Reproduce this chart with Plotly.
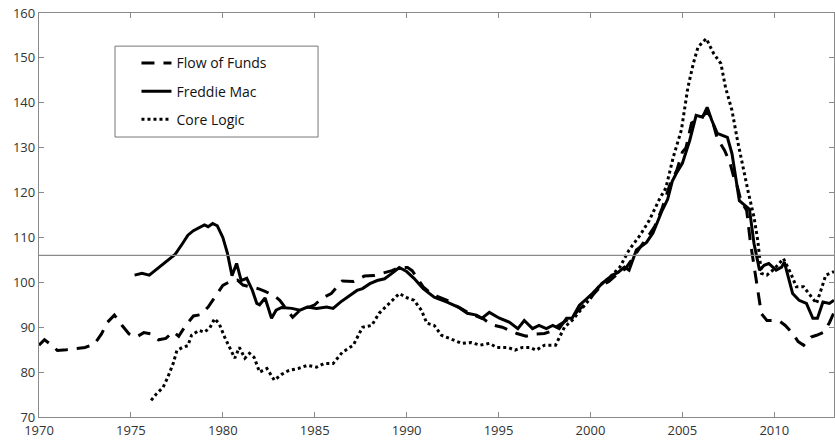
import plotly.graph_objects as go

# Flow of Funds (dashed)
fof_years = [1970.0, 1970.3, 1970.7, 1971.0, 1971.5, 1972.0, 1972.5, 1973.0, 1973.4, 1973.7, 1974.1, 1974.5,
             1974.9, 1975.3, 1975.7, 1976.1, 1976.5, 1976.9, 1977.3, 1977.6, 1978.0, 1978.4, 1978.8, 1979.2,
             1979.6, 1980.0, 1980.4, 1980.8, 1981.1, 1981.6, 1982.0, 1982.3, 1982.8, 1983.1, 1983.5, 1983.8,
             1984.3, 1984.7, 1985.0, 1985.4, 1985.9, 1986.5, 1987.1, 1987.7, 1988.2, 1988.8, 1989.2, 1989.6,
             1990.05, 1990.3, 1990.6, 1990.9, 1991.25, 1991.7, 1992.2, 1992.45, 1992.9, 1993.4, 1993.8,
             1994.2, 1994.6, 1995.2, 1995.6, 1996.0, 1996.5, 1997.0, 1997.5, 1997.8, 1998.3, 1998.7, 1999.0,
             1999.4, 1999.8, 2000.2, 2000.6, 2001.0, 2001.5, 2001.9, 2002.3, 2002.7, 2003.1, 2003.5, 2003.9,
             2004.3, 2004.7, 2005.0, 2005.2, 2005.5, 2005.75, 2006.1, 2006.35, 2006.6, 2006.9, 2007.3, 2007.6,
             2007.8, 2008.0, 2008.2, 2008.5, 2008.7, 2009.0, 2009.3, 2009.6, 2010.0, 2010.3, 2010.6, 2011.0,
             2011.3, 2011.6, 2012.0, 2012.3, 2012.7, 2013.0, 2013.25]
fof_values = [86.0, 87.2, 86.0, 84.8, 85.0, 85.2, 85.5, 86.2, 88.5, 91.0, 92.7, 90.5,
              88.5, 87.8, 88.8, 88.5, 87.2, 87.5, 89.0, 88.0, 90.5, 92.5, 92.8, 94.5,
              97.0, 99.3, 100.2, 100.5, 99.4, 98.9, 98.5, 98.0, 97.0, 96.0, 93.8, 92.2,
              94.2, 94.5, 95.0, 96.5, 97.5, 100.3, 100.2, 101.4, 101.5, 102.2, 102.6, 103.3,
              103.3, 102.6, 100.8, 99.0, 97.8, 96.8, 96.0, 95.3, 94.3, 93.1, 92.5,
              91.8, 90.6, 90.0, 89.3, 88.6, 88.0, 88.5, 88.6, 89.0, 90.5, 91.5, 92.3,
              94.0, 95.5, 97.5, 99.3, 100.2, 102.0, 103.0, 105.5, 107.8, 110.0, 112.5, 116.5,
              121.5, 125.0, 129.0, 130.0, 135.5, 136.0, 137.0, 138.0, 136.5, 132.0, 129.4, 126.5,
              123.4, 121.2, 118.0, 116.0, 109.0, 101.0, 93.0, 91.5, 91.5, 91.3, 90.4, 88.6,
              86.8, 86.0, 87.8, 88.2, 88.9, 91.0, 93.3]

# Freddie Mac (solid)
fm_years = [1975.2, 1975.6, 1976.0, 1976.3, 1976.7, 1977.0, 1977.4, 1977.8, 1978.1, 1978.4, 1978.75,
            1979.0, 1979.2, 1979.45, 1979.7, 1980.0, 1980.25, 1980.5, 1980.75, 1981.0, 1981.3, 1981.6,
            1981.85, 1982.0, 1982.3, 1982.65, 1982.9, 1983.2, 1983.75, 1984.2, 1984.6, 1985.1, 1985.65,
            1986.0, 1986.4, 1986.8, 1987.3, 1987.6, 1988.0, 1988.4, 1988.8, 1989.2, 1989.6, 1990.0,
            1990.4, 1990.9, 1991.5, 1992.2, 1992.8, 1993.3, 1993.8, 1994.1, 1994.5, 1995.05, 1995.6,
            1996.05, 1996.4, 1996.85, 1997.2, 1997.6, 1997.95, 1998.3, 1998.7, 1999.0, 1999.4, 1999.7,
            2000.1, 2000.65, 2001.2, 2001.5, 2001.85, 2002.1, 2002.5, 2003.05, 2003.4, 2003.9, 2004.2,
            2004.45, 2004.7, 2005.0, 2005.4, 2005.75, 2006.1, 2006.35, 2006.6, 2006.9, 2007.45, 2007.7,
            2007.9, 2008.1, 2008.65, 2008.9, 2009.2, 2009.45, 2009.7, 2010.1, 2010.4, 2010.55, 2011.0,
            2011.35, 2011.75, 2012.1, 2012.35, 2012.65, 2013.0, 2013.25]
fm_values = [101.6, 102.0, 101.6, 102.6, 104.0, 105.0, 106.2, 108.6, 110.5, 111.5, 112.3,
             112.8, 112.4, 113.1, 112.6, 110.0, 106.5, 101.5, 104.2, 100.4, 100.9, 98.3,
             95.3, 95.0, 96.5, 92.0, 93.8, 94.4, 94.2, 93.8, 94.5, 94.2, 94.5,
             94.2, 95.6, 96.7, 98.2, 98.6, 99.7, 100.4, 100.8, 102.0, 103.3, 102.4,
             100.9, 98.6, 96.7, 95.6, 94.5, 93.1, 92.7, 92.0, 93.3, 92.0, 91.1,
             89.7, 91.5, 89.7, 90.4, 89.7, 90.4, 89.7, 92.0, 92.0, 94.9, 96.0,
             97.5, 99.8, 101.6, 102.2, 103.4, 102.7, 107.2, 108.9, 111.0, 116.0, 118.5,
             122.5, 124.5, 126.5, 131.6, 137.2, 136.8, 139.0, 136.1, 133.2, 132.3, 128.7,
             123.0, 118.2, 116.3, 108.6, 102.7, 103.8, 104.2, 102.7, 103.4, 104.5, 97.5,
             96.0, 95.3, 92.0, 92.0, 95.6, 95.3, 96.0]

# Core Logic (dotted)
cl_years = [1976.1, 1976.4, 1976.75, 1977.0, 1977.3, 1977.5, 1977.8, 1978.1, 1978.3, 1978.7, 1979.0,
            1979.3, 1979.55, 1979.8, 1980.1, 1980.4, 1980.65, 1980.9, 1981.2, 1981.45, 1981.7, 1982.0,
            1982.4, 1982.8, 1983.2, 1983.6, 1984.1, 1984.6, 1985.1, 1985.5, 1986.0, 1986.5, 1987.1,
            1987.6, 1988.1, 1988.5, 1989.1, 1989.6, 1990.05, 1990.4, 1990.8, 1991.1, 1991.5, 1991.9,
            1992.4, 1993.0, 1993.5, 1994.0, 1994.5, 1994.9, 1995.5, 1995.9, 1996.3, 1996.7, 1997.05,
            1997.5, 1998.1, 1998.6, 1999.0, 1999.6, 2000.05, 2000.5, 2001.05, 2001.6, 2002.1, 2002.7,
            2003.2, 2003.75, 2004.1, 2004.5, 2004.95, 2005.3, 2005.6, 2005.85, 2006.3, 2006.7, 2007.1,
            2007.35, 2007.7, 2008.0, 2008.3, 2008.6, 2008.9, 2009.1, 2009.3, 2009.6, 2010.0, 2010.5,
            2010.9, 2011.2, 2011.6, 2011.9, 2012.3, 2012.6, 2012.8, 2013.25]
cl_values = [73.7, 75.2, 76.6, 78.8, 81.9, 84.8, 85.5, 85.9, 88.2, 89.3, 88.9,
             89.9, 91.9, 90.8, 87.8, 85.3, 83.1, 85.5, 83.1, 84.2, 83.3, 80.0,
             80.8, 78.2, 79.5, 80.4, 80.8, 81.5, 81.1, 81.9, 81.9, 84.4, 86.0,
             90.0, 90.4, 93.1, 95.6, 97.5, 96.5, 96.0, 93.8, 90.9, 90.4, 88.2,
             87.4, 86.4, 86.6, 86.0, 86.4, 85.5, 85.5, 84.9, 85.5, 85.5, 84.9,
             86.0, 86.0, 90.1, 91.5, 94.5, 96.7, 99.3, 101.1, 103.4, 107.2, 110.5,
             113.8, 118.5, 121.0, 127.8, 134.0, 143.4, 148.8, 152.4, 154.3, 151.0, 148.7,
             143.4, 138.3, 131.6, 125.6, 119.8, 114.5, 109.4, 102.0, 101.6, 103.0, 105.3,
             102.0, 99.0, 99.0, 97.5, 95.3, 99.0, 101.6, 102.4]

ref_level = 106
x_ticks = [1970, 1975, 1980, 1985, 1990, 1995, 2000, 2005, 2010]
y_ticks = [70, 80, 90, 100, 110, 120, 130, 140, 150, 160]

fig = go.Figure()
fig.add_trace(go.Scatter(x=fof_years, y=fof_values, mode="lines", name="Flow of Funds",
                         legendgroup="a",
                         line=dict(color="black", width=3, dash="13px,9px")))
fig.add_trace(go.Scatter(x=fm_years, y=fm_values, mode="lines", name="Freddie Mac",
                         legendgroup="b",
                         line=dict(color="black", width=3)))
fig.add_trace(go.Scatter(x=cl_years, y=cl_values, mode="lines", name="Core Logic",
                         legendgroup="c",
                         line=dict(color="black", width=3, dash="3px,3px")))

fig.add_hline(y=ref_level, line=dict(color="#8a8a8a", width=1.3))

axis_common = dict(showline=True, linecolor="#8a8a8a", linewidth=1.3, mirror="ticks",
                   ticks="inside", ticklen=5, tickcolor="#8a8a8a", showgrid=False, zeroline=False,
                   tickfont=dict(family="Open Sans", size=13, color="#333"))
fig.update_xaxes(range=[1970, 2013.25], tickvals=x_ticks, ticklabelstandoff=1, **axis_common)
fig.update_yaxes(range=[70, 160], tickvals=y_ticks, **axis_common)

fig.add_shape(type="rect", xref="paper", yref="paper", x0=0.0956, x1=0.351, y0=0.693, y1=0.918,
              line=dict(color="#777", width=1), fillcolor="rgba(0,0,0,0)")

fig.update_layout(
    width=835, height=441,
    margin=dict(l=39, r=1, t=13, b=24),
    paper_bgcolor="white", plot_bgcolor="white",
    showlegend=True,
    legend=dict(x=0.1226, y=0.915, xanchor="left", yanchor="top", bgcolor="rgba(0,0,0,0)",
                font=dict(family="Open Sans", size=14, color="#111"), tracegroupgap=7,
                borderwidth=0),
)

fig.write_html("out.html", config={"displayModeBar": False},
               post_script="document.body.style.margin='0';")
